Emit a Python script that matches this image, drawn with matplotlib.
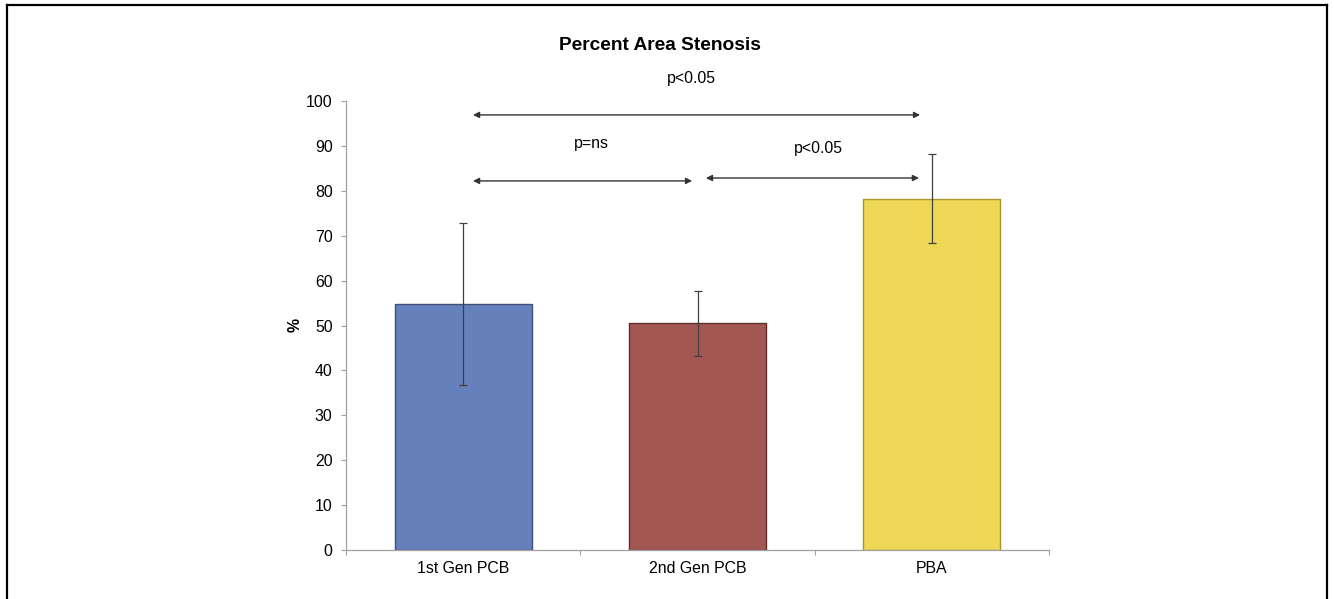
import numpy as np
import matplotlib
matplotlib.use("Agg")
import matplotlib.pyplot as plt
from matplotlib.lines import Line2D

plt.rcParams['font.family'] = ['Liberation Sans', 'DejaVu Sans']

# Data
groups = ['1st Gen PCB', '2nd Gen PCB', 'PBA']
means = [54.8, 50.5, 78.2]
errors = [18.1, 7.2, 9.9]
bar_colors = ['#6680BC', '#A35752', '#EDD754']
edge_colors = ['#3E4E78', '#5E2E2B', '#A89530']

# Significance brackets: (x start, x end, y, label, label x, label y)
comparisons = [
    (0.042, 1.950, 96.9, 'p<0.05', 0.972, 105.1),
    (0.042, 0.977, 82.2, 'p=ns', 0.546, 90.6),
    (1.036, 1.945, 82.85, 'p<0.05', 1.518, 89.5),
]

fig = plt.figure(figsize=(13.34, 5.99), dpi=100)
ax = fig.add_axes([346/1334, 1 - 550/599, 703/1334, 449/599])

x = np.arange(len(groups))
ax.bar(x, means, width=0.585, color=bar_colors, edgecolor=edge_colors,
       linewidth=1.0, zorder=2)
ax.errorbar(x, means, yerr=errors, fmt='none', ecolor='#404040',
            elinewidth=0.9, capsize=3, capthick=0.9, zorder=3)

for x0, x1, y, label, tx, ty in comparisons:
    ax.annotate('', xy=(x1, y), xytext=(x0, y),
                arrowprops=dict(arrowstyle='<|-|>', color='#333333',
                                lw=1.0, mutation_scale=9,
                                shrinkA=0, shrinkB=0),
                annotation_clip=False)
    ax.text(tx, ty, label, ha='center', va='center', fontsize=11.4,
            clip_on=False)

ax.set_xlim(-0.5, 2.5)
ax.set_ylim(0, 100)
ax.set_yticks(np.arange(0, 101, 10))

# category boundaries get tick marks, names sit between them
ax.set_xticks([-0.5, 0.5, 1.5, 2.5])
ax.set_xticklabels([])
ax.set_xticks(x, minor=True)
ax.set_xticklabels(groups, minor=True, fontsize=11.4)
ax.tick_params(axis='x', which='minor', length=0, pad=8)
ax.tick_params(axis='x', which='major', length=3.5, width=0.8,
               color='#A0A0A0', direction='out')
ax.tick_params(axis='y', length=3.6, width=0.8, color='#A0A0A0',
               labelsize=11.4, pad=6)

for side in ['top', 'right']:
    ax.spines[side].set_visible(False)
for side in ['left', 'bottom']:
    ax.spines[side].set_color('#A0A0A0')
    ax.spines[side].set_linewidth(0.9)

fig.text(660/1334, 1 - 45/599, 'Percent Area Stenosis', ha='center',
         va='center', fontsize=13.8, fontweight='bold')
fig.text(295/1334, 1 - 325/599, '%', ha='center', va='center',
         rotation=90, fontsize=11.4, fontweight='bold')

# outer frame around the figure
left, right, top = 7/1334, 1327/1334, 1 - 5/599
for xs, ys in [([left, left], [-0.1, top]),
               ([left, right], [top, top]),
               ([right, right], [top, -0.1])]:
    fig.add_artist(Line2D(xs, ys, transform=fig.transFigure,
                          color='black', lw=1.6))

fig.savefig('out.png', dpi=100)
